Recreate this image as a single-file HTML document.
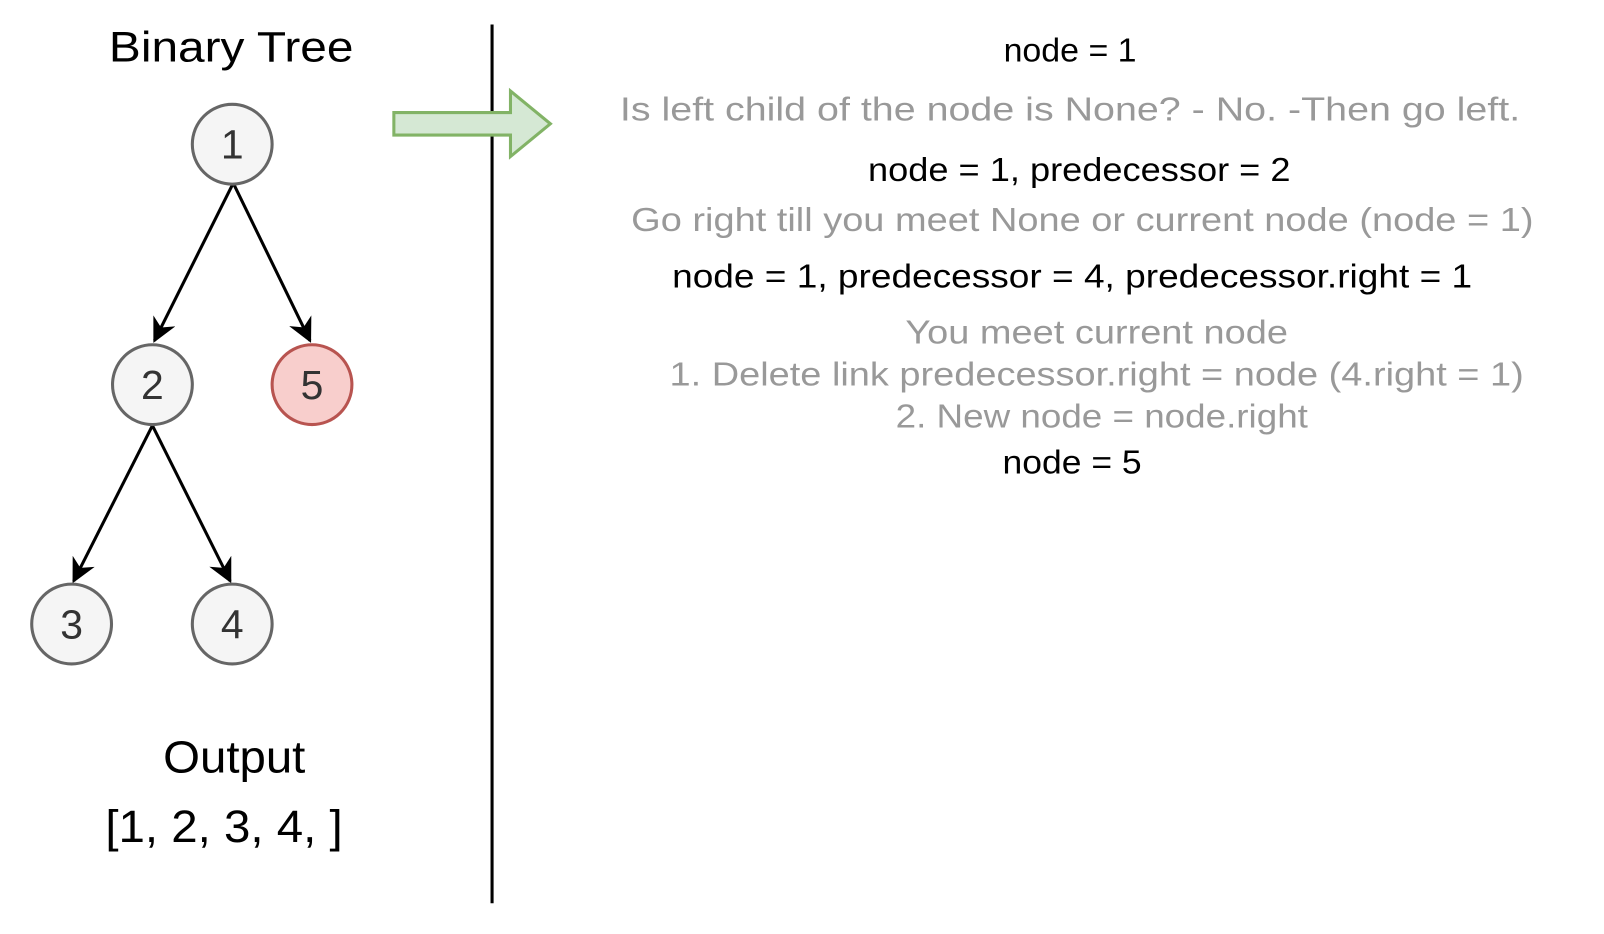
<!DOCTYPE html>
<html><head><meta charset="utf-8"><style>html,body{margin:0;padding:0;background:#fff}svg{display:block}</style></head><body>
<svg width="1604" height="934" viewBox="0 0 1604 934" xmlns="http://www.w3.org/2000/svg" font-family="Liberation Sans, sans-serif">
<defs><marker id="a" viewBox="0 0 10 10" refX="9" refY="5" markerWidth="8" markerHeight="8" orient="auto"><path d="M0,0 L10,5 L0,10 L3,5 z" fill="#000"/></marker></defs>
<g transform="scale(1.023)">
<text x="226" y="60" font-size="42" text-anchor="middle" textLength="239" lengthAdjust="spacingAndGlyphs">Binary Tree</text>
<g stroke="#000" stroke-width="3" marker-end="url(#a)">
<line x1="227" y1="181" x2="151" y2="333"/>
<line x1="229" y1="181" x2="303" y2="333"/>
<line x1="149" y1="416" x2="72" y2="568"/>
<line x1="149" y1="416" x2="225" y2="568"/>
</g>
<g stroke="#666" stroke-width="3" fill="#f5f5f5">
<circle cx="227" cy="141" r="39"/><circle cx="149" cy="376" r="39"/>
<circle cx="70" cy="610" r="39"/><circle cx="227" cy="610" r="39"/>
</g>
<circle cx="305" cy="376" r="39" fill="#f8cecc" stroke="#b85450" stroke-width="3"/>
<g font-size="40" text-anchor="middle" fill="#333">
<text x="227" y="155">1</text><text x="149" y="390">2</text><text x="305" y="390">5</text>
<text x="70" y="624">3</text><text x="227" y="624">4</text>
</g>
<text x="229" y="755" font-size="44" text-anchor="middle" textLength="139" lengthAdjust="spacingAndGlyphs">Output</text>
<text x="219" y="823" font-size="44" text-anchor="middle" textLength="232" lengthAdjust="spacingAndGlyphs">[1, 2, 3, 4, ]</text>
<line x1="481" y1="24" x2="481" y2="883" stroke="#000" stroke-width="3"/>
<path d="M385,110 L499,110 L499,89 L538,121 L499,153 L499,132 L385,132 z" fill="#d5e8d4" stroke="#82b366" stroke-width="3"/>
<g font-size="33" text-anchor="middle" lengthAdjust="spacingAndGlyphs">
<text x="1046" y="60" textLength="130" lengthAdjust="spacingAndGlyphs">node = 1</text>
<text x="1046" y="118" fill="#999" textLength="880" lengthAdjust="spacingAndGlyphs">Is left child of the node is None? - No. -Then go left.</text>
<text x="1055" y="177" textLength="413" lengthAdjust="spacingAndGlyphs">node = 1, predecessor = 2</text>
<text x="1058" y="226" fill="#999" textLength="882" lengthAdjust="spacingAndGlyphs">Go right till you meet None or current node (node = 1)</text>
<text x="1048" y="281" textLength="782" lengthAdjust="spacingAndGlyphs">node = 1, predecessor = 4, predecessor.right = 1</text>
<text x="1072" y="336" fill="#999" textLength="374" lengthAdjust="spacingAndGlyphs">You meet current node</text>
<text x="1072" y="377" fill="#999" textLength="835" lengthAdjust="spacingAndGlyphs">1. Delete link predecessor.right = node (4.right = 1)</text>
<text x="1077" y="418" fill="#999" textLength="403" lengthAdjust="spacingAndGlyphs">2. New node = node.right</text>
<text x="1048" y="463" textLength="136" lengthAdjust="spacingAndGlyphs">node = 5</text>
</g>
</g>
</svg>
</body></html>
